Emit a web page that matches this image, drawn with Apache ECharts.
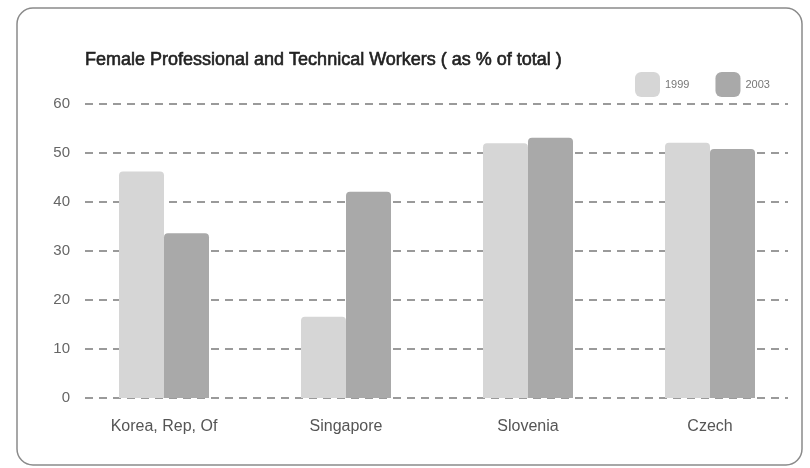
<!DOCTYPE html>
<html>
<head>
<meta charset="utf-8">
<script src="https://cdn.jsdelivr.net/npm/echarts@6/dist/echarts.min.js"></script>
<style>
  html, body { margin: 0; padding: 0; background: #ffffff; }
  #chart { width: 810px; height: 468px; }
</style>
</head>
<body>
<div id="chart"></div>
<script>
// Share of professional and technical workers who are female, by country
const countries = ['Korea, Rep, Of', 'Singapore', 'Slovenia', 'Czech'];
const years = ['1999', '2003'];
const values1999 = [46.2, 16.6, 52.0, 52.1];
const values2003 = [33.6, 42.1, 53.1, 50.8];
const yTicks = { min: 0, max: 60, step: 10 };

const FONT = '"Liberation Sans", Arial, sans-serif';
const chart = echarts.init(document.getElementById('chart'), null, { renderer: 'canvas' });

chart.setOption({
  backgroundColor: '#ffffff',
  animation: false,
  title: {
    text: 'Female Professional and Technical Workers ( as % of total )',
    left: 80,
    top: 46,
    textStyle: {
      fontFamily: FONT, fontSize: 18, fontWeight: 'normal', color: '#222',
      textBorderColor: '#222', textBorderWidth: 0.6
    }
  },
  legend: {
    data: years,
    left: 630,
    top: 67,
    itemWidth: 25,
    itemHeight: 25,
    itemGap: 26,
    icon: 'roundRect',
    textStyle: { fontFamily: FONT, fontSize: 11, color: '#777' }
  },
  // grid 0 carries the dashed value grid, grid 1 carries the bars
  grid: [
    { left: 85, right: 22, top: 104, bottom: 70 },
    { left: 73, right: 9, top: 104, bottom: 70 }
  ],
  xAxis: [
    { type: 'value', gridIndex: 0, show: false, min: 0, max: 1 },
    {
      type: 'category',
      gridIndex: 1,
      data: countries,
      axisLine: { show: false },
      axisTick: { show: false },
      axisLabel: { margin: 21, fontFamily: FONT, fontSize: 16, color: '#555' }
    }
  ],
  yAxis: [
    {
      type: 'value',
      gridIndex: 0,
      min: yTicks.min,
      max: yTicks.max,
      interval: yTicks.step,
      axisLine: { show: false },
      axisTick: { show: false },
      axisLabel: { margin: 15, fontFamily: FONT, fontSize: 15, color: '#666' },
      splitLine: { lineStyle: { color: '#9a9a9a', width: 2, type: [8, 6] } }
    },
    {
      type: 'value',
      gridIndex: 1,
      min: yTicks.min,
      max: yTicks.max,
      show: false,
      splitLine: { show: false }
    }
  ],
  series: [
    {
      name: years[0],
      type: 'bar',
      xAxisIndex: 1,
      yAxisIndex: 1,
      data: values1999,
      barWidth: 45,
      barGap: '0%',
      itemStyle: { color: '#d6d6d6', borderRadius: [4, 4, 0, 0] }
    },
    {
      name: years[1],
      type: 'bar',
      xAxisIndex: 1,
      yAxisIndex: 1,
      data: values2003,
      barWidth: 45,
      barGap: '0%',
      itemStyle: { color: '#a9a9a9', borderRadius: [4, 4, 0, 0] }
    }
  ],
  graphic: [
    {
      type: 'rect',
      silent: true,
      z: -1,
      shape: { x: 17, y: 8, width: 785, height: 457, r: 16 },
      style: { fill: 'none', stroke: '#8a8a8a', lineWidth: 1.5 }
    }
  ]
});
</script>
</body>
</html>
